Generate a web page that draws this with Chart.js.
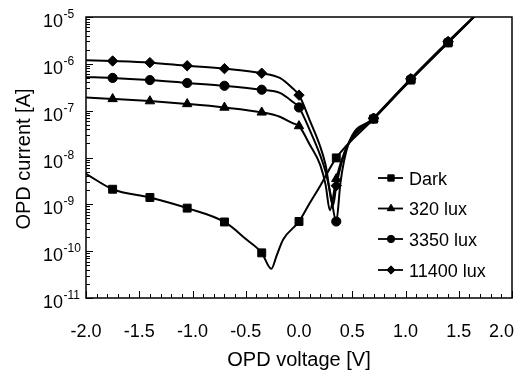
<!DOCTYPE html>
<html>
<head>
<meta charset="utf-8">
<script src="https://cdn.jsdelivr.net/npm/chart.js@4.4.0/dist/chart.umd.min.js"></script>
<style>
  body { margin: 0; background: #fff; }
  canvas { display: block; }
</style>
</head>
<body>
<canvas id="opdChart" width="524" height="375"></canvas>
<script>
// voltages where the plotted symbols sit
const markerVolts = [-1.75, -1.4, -1.05, -0.7, -0.35, 0, 0.35, 0.7, 1.05, 1.4];

const darkV = [-2.0, -1.75, -1.4, -1.05, -0.7, -0.49, -0.35, -0.26, -0.21, -0.15, 0, 0.1, 0.2, 0.35, 0.7, 1.05, 1.4, 1.7];
const darkI = [4.5e-9, 2.1e-9, 1.4e-9, 8.3e-10, 4.2e-10, 1.75e-10, 9.2e-11, 4.2e-11, 8e-11, 1.75e-10, 4.3e-10, 1.05e-9, 2.5e-9, 9.8e-9, 6.6e-8, 4.5e-7, 2.8e-6, 1.35e-5];

const lux320V = [-2.0, -1.75, -1.4, -1.05, -0.7, -0.35, -0.18, -0.06, 0, 0.1, 0.2, 0.25, 0.29, 0.35, 0.45, 0.7, 1.05, 1.4, 1.7];
const lux320I = [1.9e-7, 1.78e-7, 1.6e-7, 1.39e-7, 1.17e-7, 9.2e-8, 7.4e-8, 5.4e-8, 4.7e-8, 1.9e-8, 6.9e-9, 2.6e-9, 7.5e-10, 3.5e-9, 1.7e-8, 6.7e-8, 4.6e-7, 2.85e-6, 1.35e-5];

const lux3350V = [-2.0, -1.75, -1.4, -1.05, -0.7, -0.35, -0.18, -0.06, 0, 0.1, 0.2, 0.25, 0.3, 0.35, 0.39, 0.46, 0.7, 1.05, 1.4, 1.7];
const lux3350I = [5.2e-7, 5.0e-7, 4.5e-7, 3.9e-7, 3.4e-7, 2.8e-7, 2.4e-7, 1.55e-7, 1.17e-7, 3.9e-8, 1.1e-8, 4.9e-9, 1.5e-9, 4.3e-10, 3e-9, 1.8e-8, 6.8e-8, 4.7e-7, 2.9e-6, 1.35e-5];

const lux11400V = [-2.0, -1.75, -1.4, -1.05, -0.7, -0.35, -0.18, -0.06, 0, 0.1, 0.2, 0.25, 0.32, 0.35, 0.45, 0.7, 1.05, 1.4, 1.7];
const lux11400I = [1.2e-6, 1.15e-6, 1.06e-6, 9.1e-7, 7.9e-7, 6.3e-7, 5e-7, 3e-7, 2.15e-7, 6.3e-8, 1.7e-8, 6.9e-9, 9.5e-10, 2.5e-9, 1.7e-8, 6.9e-8, 4.8e-7, 3e-6, 1.35e-5];

const seriesNames = ['Dark', '320 lux', '3350 lux', '11400 lux'];
const xTickValues = [-2.0, -1.5, -1.0, -0.5, 0.0, 0.5, 1.0, 1.5, 2.0];
const xTickLabels = ['-2.0', '-1.5', '-1.0', '-0.5', '0.0', '0.5', '1.0', '1.5', '2.0'];
const yDecades = [-11, -10, -9, -8, -7, -6, -5];

const FONT = '"Liberation Sans", Arial, Helvetica, sans-serif';

function toPoints(vs, is) {
  return vs.map((v, i) => ({ x: v, y: is[i] }));
}
function isMarker(v) {
  return markerVolts.some(m => Math.abs(m - v) < 1e-6);
}

const styles = [
  { pointStyle: 'rect', radius: 5.6 },
  { pointStyle: 'triangle', radius: 5.4 },
  { pointStyle: 'circle', radius: 4.6 },
  { pointStyle: 'rectRot', radius: 5.2 }
];

function makeSet(label, vs, is, st) {
  return {
    label: label,
    data: toPoints(vs, is),
    borderColor: '#000',
    backgroundColor: '#000',
    borderWidth: 2,
    cubicInterpolationMode: 'monotone',
    pointStyle: st.pointStyle,
    pointRadius: c => (c.raw && isMarker(c.raw.x)) ? st.radius : 0,
    pointHoverRadius: 0,
    pointBorderWidth: 1,
    pointBackgroundColor: '#000',
    pointBorderColor: '#000'
  };
}

const frameAndLabels = {
  id: 'frameAndLabels',
  afterDatasetsDraw(chart) {
    const { ctx, chartArea: a } = chart;
    const x = chart.scales.x, y = chart.scales.y;
    ctx.save();
    ctx.strokeStyle = '#000';
    ctx.lineWidth = 1.5;
    ctx.strokeRect(a.left, a.top, a.right - a.left, a.bottom - a.top);

    // inward ticks
    ctx.lineWidth = 1;
    ctx.beginPath();
    for (let i = 0; i <= 40; i++) {
      const px = Math.round(x.getPixelForValue(-2 + i * 0.1)) + 0.5;
      const len = i % 5 === 0 ? 7 : 4;
      ctx.moveTo(px, a.bottom);
      ctx.lineTo(px, a.bottom - len);
    }
    for (let k = 0; k < yDecades.length; k++) {
      const d = yDecades[k];
      const py = Math.round(y.getPixelForValue(Math.pow(10, d))) + 0.5;
      ctx.moveTo(a.left, py);
      ctx.lineTo(a.left + 7, py);
      if (d === -5) continue;
      for (let m = 2; m <= 9; m++) {
        const pm = Math.round(y.getPixelForValue(m * Math.pow(10, d))) + 0.5;
        ctx.moveTo(a.left, pm);
        ctx.lineTo(a.left + 4, pm);
      }
    }
    ctx.stroke();

    ctx.fillStyle = '#000';
    ctx.textBaseline = 'alphabetic';

    // x tick labels
    ctx.font = '18px ' + FONT;
    ctx.textAlign = 'center';
    xTickValues.forEach((v, i) => {
      let px = x.getPixelForValue(v);
      const w = ctx.measureText(xTickLabels[i]).width;
      if (px + w / 2 > 514) px = 514 - w / 2;
      ctx.fillText(xTickLabels[i], px, a.bottom + 39);
    });

    // y tick labels 10^n
    ctx.textAlign = 'left';
    yDecades.forEach(d => {
      const py = y.getPixelForValue(Math.pow(10, d));
      ctx.font = '18px ' + FONT;
      ctx.fillText('10', 43, py + 10);
      const w = ctx.measureText('10').width;
      ctx.font = '12px ' + FONT;
      ctx.fillText(String(d), 43 + w + 0.5, py + 1);
    });

    // axis titles
    ctx.font = '20px ' + FONT;
    ctx.textAlign = 'center';
    ctx.fillText('OPD voltage [V]', (a.left + a.right) / 2, 366);
    ctx.save();
    ctx.translate(30, 159);
    ctx.rotate(-Math.PI / 2);
    ctx.fillText('OPD current [A]', 0, 0);
    ctx.restore();

    // legend inside the plot
    const rows = [178, 208.5, 239, 270];
    ctx.font = '18px ' + FONT;
    ctx.textAlign = 'left';
    chart.data.datasets.forEach((ds, i) => {
      const cy = rows[i];
      ctx.lineWidth = 1.8;
      ctx.beginPath();
      ctx.moveTo(378, cy);
      ctx.lineTo(403, cy);
      ctx.stroke();
      ctx.lineWidth = 1;
      Chart.helpers.drawPoint(ctx, {
        pointStyle: styles[i].pointStyle,
        radius: styles[i].radius * 0.8,
        rotation: 0,
        borderWidth: 1
      }, 391, cy);
      ctx.fillText(ds.label, 409, cy + 6.5);
    });
    ctx.restore();
  }
};

new Chart(document.getElementById('opdChart'), {
  type: 'line',
  data: {
    datasets: [
      makeSet(seriesNames[0], darkV, darkI, styles[0]),
      makeSet(seriesNames[1], lux320V, lux320I, styles[1]),
      makeSet(seriesNames[2], lux3350V, lux3350I, styles[2]),
      makeSet(seriesNames[3], lux11400V, lux11400I, styles[3])
    ]
  },
  options: {
    responsive: false,
    animation: false,
    events: [],
    layout: { padding: { left: 86, top: 17, right: 12, bottom: 77 } },
    plugins: {
      legend: { display: false },
      tooltip: { enabled: false }
    },
    scales: {
      x: { type: 'linear', min: -2, max: 2, display: false },
      y: { type: 'logarithmic', min: 1e-11, max: 1e-5, display: false }
    }
  },
  plugins: [frameAndLabels]
});
</script>
</body>
</html>
